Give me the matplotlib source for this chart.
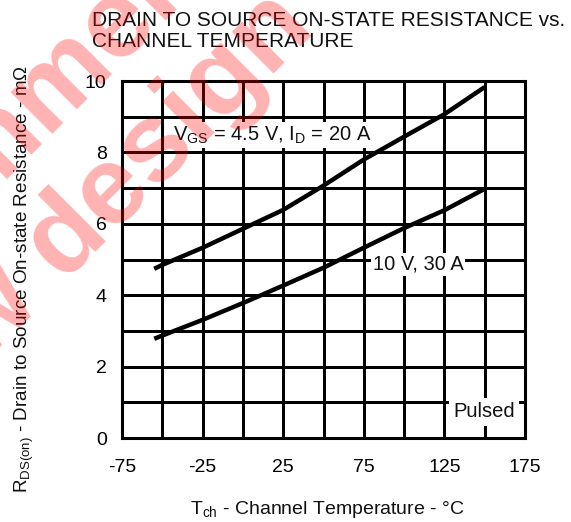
import matplotlib
matplotlib.use("Agg")
import matplotlib.pyplot as plt
import numpy as np

plt.rcParams['font.family'] = ['Liberation Sans', 'DejaVu Sans']
plt.rcParams['mathtext.fontset'] = 'custom'
plt.rcParams['mathtext.rm'] = 'Liberation Sans'
plt.rcParams['text.color'] = '#111111'

# channel temperature (deg C) and on-state resistance (mOhm)
temp = [-55, -50, -25, 0, 25, 50, 75, 100, 125, 150]
r_vgs45 = [4.74, 4.85, 5.33, 5.86, 6.39, 7.07, 7.80, 8.44, 9.07, 9.83]
r_vgs10 = [2.78, 2.87, 3.31, 3.78, 4.27, 4.77, 5.33, 5.88, 6.38, 6.98]

x_ticks = [-75, -25, 25, 75, 125, 175]
y_ticks = [0, 2, 4, 6, 8, 10]
x_grid = np.arange(-75, 176, 25)
y_grid = np.arange(0, 11, 1)

fig = plt.figure(figsize=(5.71, 5.22), dpi=100)
ax = fig.add_axes([0.2137, 0.1609, 0.7057, 0.6839])

# grid drawn by hand so every 25 degC / 1 mOhm line shows, crisp 1px
for gx in x_grid:
    ax.axvline(gx, color='black', lw=0.8, antialiased=False, zorder=1)
for gy in y_grid:
    ax.axhline(gy, color='black', lw=0.8, antialiased=False, zorder=1)

ax.plot(temp, r_vgs45, color='black', lw=3.2, solid_capstyle='butt', zorder=3)
ax.plot(temp, r_vgs10, color='black', lw=3.2, solid_capstyle='butt', zorder=3)

ax.set_xlim(-75, 175)
ax.set_ylim(0, 10)
ax.set_xticks(x_ticks)
ax.set_yticks(y_ticks)
ax.set_xticklabels([str(v) for v in x_ticks], fontsize=14)
ax.set_yticklabels([str(v) for v in y_ticks], fontsize=14)
ax.tick_params(length=0)
ax.tick_params(axis='x', pad=15)
ax.tick_params(axis='y', pad=11)
for s in ax.spines.values():
    s.set_linewidth(2.2)
    s.set_zorder(5)

box = dict(facecolor='white', edgecolor='none', pad=1.5)
ax.text(-43.5, 8.49, r'$\mathregular{V_{GS}}$ = 4.5 V, $\mathregular{I_{D}}$ = 20 A',
        fontsize=14.5, ha='left', va='center', bbox=box, zorder=4)
ax.text(80.5, 4.87, '10 V, 30 A', fontsize=14.5, ha='left', va='center', bbox=box, zorder=4)
ax.text(130.5, 0.73, 'Pulsed', fontsize=14.5, ha='left', va='center',
        bbox=dict(facecolor='white', edgecolor='none', pad=3), zorder=4)

fig.text(92 / 571, 1 - 25.7 / 522, 'DRAIN TO SOURCE ON-STATE RESISTANCE vs.',
         fontsize=15, ha='left', va='baseline')
fig.text(92 / 571, 1 - 46.7 / 522, 'CHANNEL TEMPERATURE',
         fontsize=15, ha='left', va='baseline')

fig.text(327 / 571, 1 - 510 / 522, r'$\mathregular{T_{ch}}$ - Channel Temperature - °C',
         fontsize=14, ha='center', va='center')
fig.text(24 / 571, 1 - 279 / 522,
         r'$\mathregular{R_{DS(on)}}$ - Drain to Source On-state Resistance - m$\mathregular{\Omega}$',
         fontsize=13.6, ha='center', va='center', rotation=90)

# watermark
fig.text(-17 / 571, 1 - 162 / 522, 'Not recommended', fontsize=80, fontweight='bold',
         color='red', alpha=0.3, rotation=45, rotation_mode='anchor',
         ha='center', va='center', zorder=10)
fig.text(296 / 571, 1 - 10 / 522, 'for new design', fontsize=80, fontweight='bold',
         color='red', alpha=0.3, rotation=45, rotation_mode='anchor',
         ha='right', va='center', zorder=10)

fig.savefig('out.png', dpi=100)
